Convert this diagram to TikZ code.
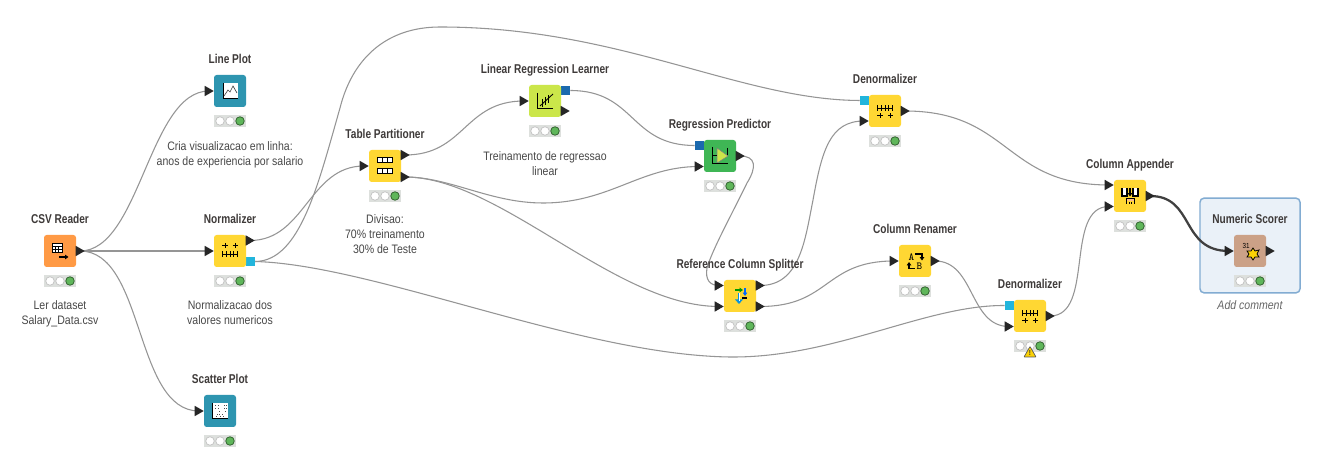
\documentclass[tikz,border=0pt]{standalone}
\usepackage{fontspec}
\usetikzlibrary{calc,arrows.meta}
\setmainfont{Liberation Sans}[FakeStretch=0.86]
\newfontfamily\ttlfont[FakeStretch=0.79]{Liberation Sans}
\definecolor{txtc}{HTML}{484848}
\definecolor{titlec}{HTML}{3E3A39}
\definecolor{wirec}{HTML}{959595}
\definecolor{csvc}{HTML}{FF9A45}
\definecolor{manc}{HTML}{FFD733}
\definecolor{vizc}{HTML}{2E95B0}
\definecolor{lrnc}{HTML}{CBE64A}
\definecolor{prdc}{HTML}{3FB655}
\definecolor{scrc}{HTML}{CBA187}
\definecolor{flowc}{HTML}{22B5DC}
\definecolor{modc}{HTML}{1B69AE}
\definecolor{stc}{HTML}{DDE0DD}
\definecolor{okc}{HTML}{5FB65A}
\tikzset{
  x=0.75pt,y=-0.75pt,
  knode/.style={rounded corners=2pt,minimum size=24pt,inner sep=0pt,fill=#1,draw=none},
  ttl/.style={font=\ttlfont\bfseries\fontsize{9.6}{11}\selectfont,text=titlec,anchor=base},
  cmt/.style={font=\fontsize{9.2}{11.3}\selectfont,text=txtc,align=center,anchor=north},
  wire/.style={draw=wirec,line width=0.8pt},
  wirebold/.style={draw=black!75,line width=1.7pt},
  pin/.style={draw=none,fill=black!85},
  icon/.style={line width=0.65pt,draw=black},
  tip/.style={-{Triangle[length=2.6pt,width=3.4pt]}},
}
\newcommand{\porttri}[2]{%
  \coordinate (#1) at (#2);
  \fill[pin] ($(#2)+(-4.3,-5.2)$) -- ($(#2)+(4.7,0)$) -- ($(#2)+(-4.3,5.2)$) -- cycle;
}
\newcommand{\portsq}[3]{%
  \node[fill=#3,minimum size=6.75pt,inner sep=0pt] (#1) at (#2) {};
}
\newcommand{\status}[2]{%
  \node[fill=stc,minimum width=24pt,minimum height=9.5pt,inner sep=0pt] (#1) at ($(#2)+(0,30)$) {};
  \fill[white,draw=black!25,line width=.5pt] ($(#2)+(-10,30)$) circle (3.2pt);
  \fill[white,draw=black!25,line width=.5pt] ($(#2)+(0,30)$) circle (3.2pt);
  \fill[okc,draw=black!45!okc,line width=.6pt] ($(#2)+(10,30)$) circle (3.2pt);
}
\newcommand{\wconn}[3]{\draw[wire] (#1) .. controls +(#3,0) and +(-#3,0) .. (#2);}
\newcommand{\ruler}[2]{% ruler at y=#1, arrow marks at y=#2
 \draw[icon] (-8,#1) -- (8,#1);
 \foreach \a in {-7.5,-3.8,0,3.8,7.5} \draw[line width=.5pt] (\a,#1-2.8) -- (\a,#1+2.8);
 \draw[line width=.75pt] (-8,#2) -- (-2.5,#2) (-5,#2-2.5) -- (-5,#2+2.5) (2.5,#2) -- (8,#2) (5,#2-2.5) -- (5,#2+2.5);
}
\begin{document}
\begin{tikzpicture}
\useasboundingbox (0,0) rectangle (1331,473);
\fill[white] (0,0) rectangle (1331,473);
% comment box
\node[draw=modc!55!white,fill=modc!9!white,line width=1.1pt,rounded corners=3pt,minimum width=75pt,minimum height=71pt,inner sep=0pt] (box) at (1250,245.5) {};
% coordinates of ports
\coordinate (c1) at (80,251);
\coordinate (nI) at (209,251);
\coordinate (nO) at (250,240.5);
\coordinate (lpI) at (209,91);
\coordinate (spI) at (199,411);
\coordinate (tI) at (364,166);
\coordinate (tO1) at (405,155);
\coordinate (tO2) at (405,177);
\coordinate (lI) at (524,101);
\coordinate (lO) at (565,111);
\coordinate (rI) at (699,166.5);
\coordinate (rO) at (740,156);
\coordinate (d1I) at (864,121);
\coordinate (d1O) at (905,111);
\coordinate (sI1) at (719,285.5);
\coordinate (sI2) at (719,306.5);
\coordinate (sO1) at (760,285.5);
\coordinate (sO2) at (760,306.5);
\coordinate (cnI) at (894,261);
\coordinate (cnO) at (935,261);
\coordinate (d2I) at (1009,326.5);
\coordinate (d2O) at (1050,316);
\coordinate (aI1) at (1109,185);
\coordinate (aI2) at (1109,206.5);
\coordinate (aO) at (1150,196);
\coordinate (scI) at (1229,251);
% flow and model ports
\portsq{nF}{250.5,261.5}{flowc}
\portsq{lM}{565.5,90.5}{modc}
\portsq{rM}{699.5,145.5}{modc}
\portsq{d1F}{864.5,100.5}{flowc}
\portsq{d2F}{1009.5,305.5}{flowc}
% waypoints
\coordinate (w1) at (730,357);
\coordinate (wa) at (340,108);
\coordinate (wb) at (440,27);
\coordinate (wc) at (543,203);
\coordinate (wd) at (747,183);
\coordinate (we) at (707,268);
\coordinate (wf) at (813,200);
% connectors
\wconn{c1}{lpI}{60}
\wconn{c1}{nI}{50}
\wconn{c1}{spI}{65}
\wconn{nO}{tI}{55}
\draw[wire] (nF.east) .. controls (375,265) and (580,355) .. (w1) .. controls (835,358) and (925,305) .. (d2F.west);
\draw[wire] (nF.east) .. controls (300,261) and (318,185) .. (wa) .. controls (352,60) and (385,27) .. (wb) .. controls (620,27) and (740,100) .. (d1F.west);
\wconn{tO1}{lI}{60}
\draw[wire] (tO2) .. controls (450,177) and (490,203) .. (wc) .. controls (610,203) and (640,166.5) .. (rI);
\draw[wire] (tO2) .. controls (500,177) and (615,306.5) .. (sI2);
\wconn{lM}{rM}{70}
\draw[wire] (rO) .. controls (756,156) and (757,167) .. (wd) .. controls (733,212) and (712,250) .. (we) .. controls (705,280) and (710,285.5) .. (sI1);
\draw[wire] (sO1) .. controls (800,285.5) and (805,240) .. (wf) .. controls (822,150) and (830,121) .. (d1I);
\wconn{sO2}{cnI}{70}
\wconn{d1O}{aI1}{105}
\wconn{cnO}{d2I}{40}
\wconn{d2O}{aI2}{45}
\draw[wirebold] (aO) .. controls (1195,196) and (1180,251) .. (scI);
% nodes
\node[knode=csvc] (csv) at (60,251) {};
\node[knode=manc] (norm) at (230,251) {};
\node[knode=vizc] (lp) at (230,91) {};
\node[knode=vizc] (sp) at (220,411) {};
\node[knode=manc] (tp) at (385,166) {};
\node[knode=lrnc] (lrl) at (545,101) {};
\node[knode=prdc] (rp) at (720,156) {};
\node[knode=manc] (d1) at (885,111) {};
\node[knode=manc] (rcs) at (740,296) {};
\node[knode=manc] (cr) at (915,261) {};
\node[knode=manc] (d2) at (1030,316) {};
\node[knode=manc] (ca) at (1130,196) {};
\node[knode=scrc] (ns) at (1250,251) {};
% triangles
\porttri{c1t}{80,251}\porttri{nIt}{209,251}\porttri{nOt}{250,240.5}
\porttri{lpt}{209,91}\porttri{spt}{199,411}
\porttri{tIt}{364,166}\porttri{tO1t}{405,155}\porttri{tO2t}{405,177}
\porttri{lIt}{524,101}\porttri{lOt}{565,111}
\porttri{rIt}{699,166.5}\porttri{rOt}{740,156}
\porttri{d1It}{864,121}\porttri{d1Ot}{905,111}
\porttri{sI1t}{719,285.5}\porttri{sI2t}{719,306.5}\porttri{sO1t}{760,285.5}\porttri{sO2t}{760,306.5}
\porttri{cnIt}{894,261}\porttri{cnOt}{935,261}
\porttri{d2It}{1009,326.5}\porttri{d2Ot}{1050,316}
\porttri{aI1t}{1109,185}\porttri{aI2t}{1109,206.5}\porttri{aOt}{1150,196}
\porttri{scIt}{1229,251}\porttri{scOt}{1270,251}
% status
\status{s1}{60,251}\status{s2}{230,251}\status{s3}{230,91}\status{s4}{220,411}
\status{s5}{385,166}\status{s6}{545,101}\status{s7}{720,156}\status{s8}{885,111}
\status{s9}{740,296}\status{s10}{915,261}\status{s11}{1030,316}\status{s12}{1130,196}\status{s13}{1250,251}
% warning
\fill[yellow!70!orange,draw=black!65,line width=.5pt,rounded corners=.4pt] (1024,357) -- (1030,346.5) -- (1036,357) -- cycle;
\node[font=\bfseries\fontsize{5.5}{6}\selectfont,text=black!80,inner sep=0pt] (warn) at (1030,352.8) {!};
% titles
\node[ttl] (t1) at (60,224) {CSV Reader};
\node[ttl] (t2) at (230,224) {Normalizer};
\node[ttl] (t3) at (230,64) {Line Plot};
\node[ttl] (t4) at (220,384) {Scatter Plot};
\node[ttl] (t5) at (385,139) {Table Partitioner};
\node[ttl] (t6) at (545,74) {Linear Regression Learner};
\node[ttl] (t7) at (720,129) {Regression Predictor};
\node[ttl] (t8) at (885,84) {Denormalizer};
\node[ttl] (t9) at (740,269) {Reference Column Splitter};
\node[ttl] (t10) at (915,234) {Column Renamer};
\node[ttl] (t11) at (1030,289) {Denormalizer};
\node[ttl] (t12) at (1130,169) {Column Appender};
\node[ttl] (t13) at (1250,224) {Numeric Scorer};
% comments
\node[cmt] (m1) at (60,296) {Ler dataset\\Salary\_Data.csv};
\node[cmt] (m2) at (230,296) {Normalizacao dos\\valores numericos};
\node[cmt] (m3) at (230,136.5) {Cria visualizacao em linha:\\anos de experiencia por salario};
\node[cmt] (m4) at (385,210) {Divisao:\\70\% treinamento\\30\% de Teste};
\node[cmt] (m5) at (545,146.5) {Treinamento de regressao\\linear};
\node[cmt,font=\itshape\fontsize{9.2}{11.3}\selectfont,text=black!60] (m6) at (1250,296) {Add comment};
% icons
\begin{scope}[shift={(60,251)}]
 \draw[icon,fill=white] (-8,-8) rectangle (2,1);
 \draw[icon] (-8,-5) -- (2,-5) (-8,-2) -- (2,-2) (-4.7,-5) -- (-4.7,1) (-1.3,-5) -- (-1.3,1);
 \draw[line width=1pt,tip] (-1,6) -- (8.5,6);
\end{scope}
\begin{scope}[shift={(230,251)}]
 \ruler{3}{-5}
\end{scope}
\begin{scope}[shift={(885,111)}]
 \ruler{-3}{5}
\end{scope}
\begin{scope}[shift={(1030,316)}]
 \ruler{-3}{5}
\end{scope}
\begin{scope}[shift={(230,91)}]
 \fill[white] (-7,-8) rectangle (8,7);
 \draw[line width=.7pt] (-7,-8) -- (-7,7) -- (8,7);
 \draw[line width=.5pt,black!75] (-6,5) -- (-2,-1) -- (0,1) -- (3,-5) -- (7,2);
\end{scope}
\begin{scope}[shift={(220,411)}]
 \fill[white] (-8,-8) rectangle (8,7);
 \draw[line width=.7pt] (-8,-8) -- (-8,7) -- (8,7);
 \foreach \p/\q in {-5/-6,-2/-6,4/-6,6/-6,-5/-3,-2/-3,4/-3,6/-3,5/0,-1/0,-1/3,2/3,-3/3,-4/5,0/5,3/5}
  \fill[black!70] (\p,\q) rectangle +(.9,.9);
\end{scope}
\begin{scope}[shift={(385,166)}]
 \foreach \yy in {-8,3} { \draw[line width=.75pt,fill=white] (-7.5,\yy) rectangle (7.5,\yy+5);
 \draw[line width=.75pt] (-2.5,\yy) -- (-2.5,\yy+5) (2.5,\yy) -- (2.5,\yy+5);}
\end{scope}
\begin{scope}[shift={(545,101)}]
 \draw[line width=.65pt] (-8,-8) -- (-8,7) -- (8,7);
 \draw[line width=.65pt] (-5,5) -- (8,-7);
 \foreach \a/\b in {-3/2,0/0,3/-2} \draw[line width=.65pt] (\a,\b-4) -- (\a,\b+4);
\end{scope}
\begin{scope}[shift={(720,156)}]
 \draw[line width=.6pt] (7,-8) -- (7,0);
 \fill[lrnc,draw=black!50,line width=.4pt] (-3,-8) -- (8,0) -- (-3,7) -- cycle;
 \draw[line width=.7pt] (-8,-9) -- (-8,7) -- (8,7) (-8,-1) -- (-3,-1);
\end{scope}
\begin{scope}[shift={(740,296)}]
 \draw[line width=.8pt,green!60!black,tip] (-5,-6) -- (3,-6);
 \draw[line width=.9pt,blue!60!cyan,tip] (5,-8) -- (5,0);
 \draw[line width=.8pt] (2,2) -- (7,2);
 \draw[line width=1.8pt,cyan!80!blue,-{Triangle[length=3.5pt,width=6pt]}] (-1,-3) -- (-1,8);
 \draw[line width=.6pt,white] (-1,-3) -- (-1,5);
\end{scope}
\begin{scope}[shift={(915,261)}]
 \node[font=\fontsize{8}{8}\ttfamily,inner sep=0] (ia) at (-3.5,-4) {A};
 \node[font=\fontsize{8}{8}\ttfamily,inner sep=0] (ib) at (4.5,5) {B};
 \draw[line width=.9pt,tip] (0,-7) -- (7,-7) -- (7,-0.5);
 \draw[line width=.9pt,tip] (0,7.5) -- (-6,7.5) -- (-6,1);
\end{scope}
\begin{scope}[shift={(1130,196)}]
 \draw[line width=.9pt,fill=white] (-8,-8) -- (-8,0) -- (-3,0) -- (-3,-8);
 \draw[line width=.9pt,fill=white] (3,-8) -- (3,0) -- (8,0) -- (8,-8);
 \draw[line width=1pt,tip] (0,-8) -- (0,0.5);
 \fill[csvc!65!white] (-4,2) rectangle (4,5.5);
 \draw[line width=.7pt] (-4,2) -- (4,2) (-4,2) -- (-4,8) (4,2) -- (4,8) (-1,6) -- (-1,8) (1,6) -- (1,8);
\end{scope}
\begin{scope}[shift={(1250,251)}]
 \node[font=\fontsize{5.5}{6}\selectfont,inner sep=0] (i31) at (-4,-5.5) {31};
 \fill[yellow!70!orange,draw=black,line width=.6pt] (3,-3) -- (5,0) -- (9,-1) -- (7,3) -- (9,6) -- (5,6) -- (3,9) -- (1,6) -- (-3,6) -- (-1,3) -- (-3,0) -- (1,0) -- cycle;
\end{scope}
\end{tikzpicture}
\end{document}
